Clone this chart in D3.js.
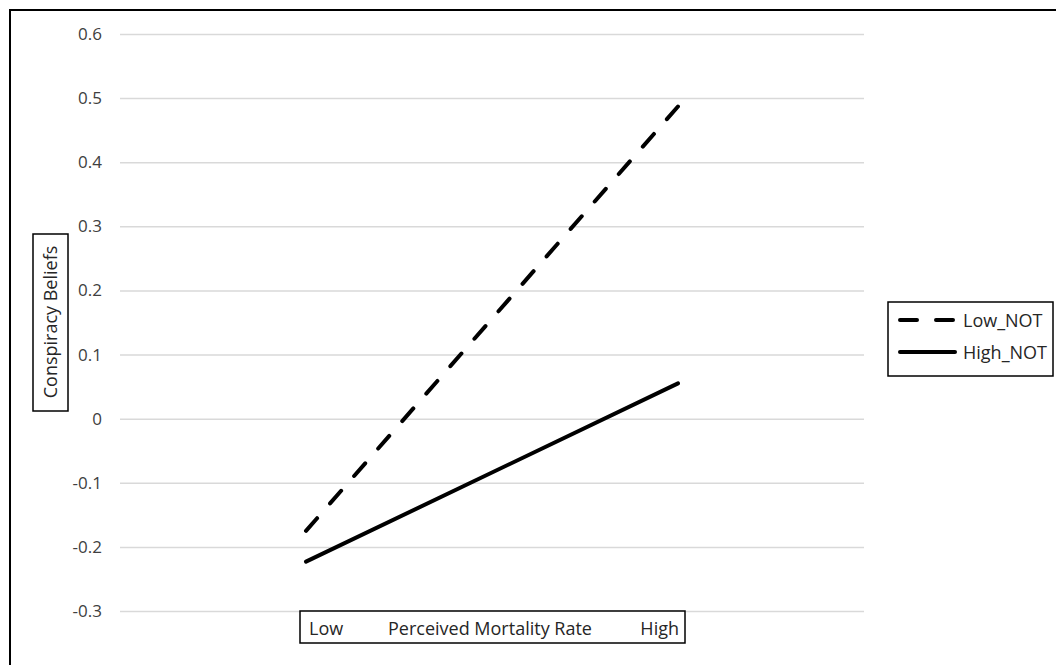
<!DOCTYPE html>
<html>
<head>
<meta charset="utf-8">
<script src="https://cdn.jsdelivr.net/npm/d3@7"></script>
<style>
  body { margin: 0; background: #fff; }
  text { font-family: "Open Sans", "Liberation Sans", sans-serif; }
</style>
</head>
<body>
<div id="chart"></div>
<script>
// chart data
const categories = ["Low", "High"];
const seriesNames = ["Low_NOT", "High_NOT"];
const lowNOT = [-0.175, 0.487];
const highNOT = [-0.223, 0.055];
const yTicks = [-0.3, -0.2, -0.1, 0, 0.1, 0.2, 0.3, 0.4, 0.5, 0.6];

const W = 1056, H = 665;
const svg = d3.select("#chart").append("svg")
    .attr("width", W)
    .attr("height", H);

// outer frame (cropped at right/bottom)
svg.append("rect")
    .attr("x", 10).attr("y", 10)
    .attr("width", W + 20).attr("height", H + 20)
    .attr("fill", "none")
    .attr("stroke", "#000")
    .attr("stroke-width", 2);

let xScale = d3.scaleBand().domain(categories).range([120, 864]);
let yScale = d3.scaleLinear().domain([-0.3, 0.6]).range([611, 34]);

// gridlines + tick labels
let yAxis = svg.append("g")
    .attr("transform", "translate(120,0)")
    .call(d3.axisLeft(yScale).tickValues(yTicks).tickSize(-744).tickPadding(18)
        .tickFormat(d => String(+d.toFixed(1))));
yAxis.select(".domain").remove();
yAxis.selectAll(".tick line").attr("stroke", "#d9d9d9").attr("stroke-width", 1.5);
yAxis.selectAll(".tick text")
    .attr("fill", "#404040")
    .style("font-size", "17px");

// lines
let line = d3.line()
    .x((d, i) => xScale(categories[i]) + xScale.bandwidth() / 2)
    .y(d => yScale(d));

svg.append("path")
    .datum(lowNOT)
    .attr("fill", "none")
    .attr("stroke", "#000")
    .attr("stroke-width", 4)
    .attr("stroke-linecap", "round")
    .attr("stroke-dasharray", "16.8,19.7")
    .attr("d", line);

svg.append("path")
    .datum(highNOT)
    .attr("fill", "none")
    .attr("stroke", "#000")
    .attr("stroke-width", 4)
    .attr("stroke-linecap", "round")
    .attr("d", line);

// x axis label box
let xl = svg.append("g");
xl.append("rect")
    .attr("x", 300).attr("y", 611)
    .attr("width", 385).attr("height", 32)
    .attr("fill", "#fff").attr("stroke", "#000").attr("stroke-width", 1.5);
xl.append("text").attr("x", 309).attr("y", 635)
    .style("font-size", "18px").attr("fill", "#262626").text(categories[0]);
xl.append("text").attr("x", 490).attr("y", 635).attr("text-anchor", "middle")
    .style("font-size", "18px").attr("fill", "#262626").text("Perceived Mortality Rate");
xl.append("text").attr("x", 679).attr("y", 635).attr("text-anchor", "end")
    .style("font-size", "18px").attr("fill", "#262626").text(categories[1]);

// y axis label box
let yl = svg.append("g");
yl.append("rect")
    .attr("x", 33).attr("y", 234)
    .attr("width", 35).attr("height", 177)
    .attr("fill", "#fff").attr("stroke", "#000").attr("stroke-width", 1.5);
yl.append("text")
    .attr("transform", "translate(57,322) rotate(-90)")
    .attr("text-anchor", "middle")
    .style("font-size", "18px").attr("fill", "#262626")
    .text("Conspiracy Beliefs");

// legend
let lg = svg.append("g");
lg.append("rect")
    .attr("x", 888).attr("y", 302)
    .attr("width", 165).attr("height", 74)
    .attr("fill", "#fff").attr("stroke", "#000").attr("stroke-width", 1.5);
seriesNames.forEach((name, i) => {
    let yy = 320 + i * 32;
    lg.append("line")
        .attr("x1", 900).attr("x2", 955)
        .attr("y1", yy).attr("y2", yy)
        .attr("stroke", "#000").attr("stroke-width", 4)
        .attr("stroke-linecap", "round")
        .attr("stroke-dasharray", i === 0 ? "17,19" : null);
    lg.append("text")
        .attr("x", 963).attr("y", yy + 7)
        .style("font-size", "18px").attr("fill", "#262626")
        .text(name);
});
</script>
</body>
</html>
